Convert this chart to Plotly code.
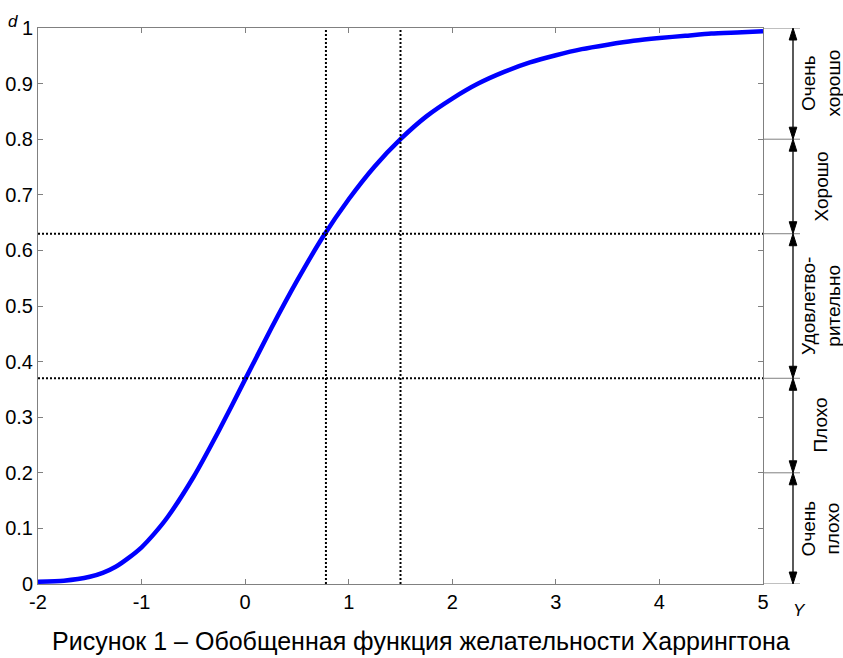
import plotly.graph_objects as go

# Harrington desirability curve
Y_VALUES = [-2.0, -1.75, -1.5, -1.375, -1.25, -1.125, -1.0, -0.875, -0.75, -0.5, -0.25, 0.0,
            0.25, 0.5, 0.75, 1.0, 1.25, 1.5, 1.75, 2.0, 2.25, 2.5, 2.75, 3.0, 3.25, 3.5,
            3.75, 4.0, 4.25, 4.5, 4.75, 5.0]
D_VALUES = [0.004, 0.006, 0.013, 0.02, 0.031, 0.047, 0.066, 0.091, 0.12, 0.192, 0.277, 0.368,
            0.459, 0.545, 0.624, 0.692, 0.751, 0.8, 0.841, 0.873, 0.9, 0.921, 0.938, 0.951, 0.962, 0.97,
            0.977, 0.982, 0.986, 0.99, 0.992, 0.994]

X_TICKS = [-2, -1, 0, 1, 2, 3, 4, 5]
D_TICKS = [0, 0.1, 0.2, 0.3, 0.4, 0.5, 0.6, 0.7, 0.8, 0.9, 1]
D_TICK_TEXT = ["0", "0.1", "0.2", "0.3", "0.4", "0.5", "0.6", "0.7", "0.8", "0.9", "1"]

GUIDE_D = [0.37, 0.63]
GUIDE_Y = [0.78, 1.5]

LEVEL_BOUNDS = [0, 0.2, 0.37, 0.63, 0.8, 1]
LEVEL_NAMES = ["Очень<br>плохо", "Плохо", "Удовлетво-<br>рительно", "Хорошо", "Очень<br>хорошо"]

CAPTION = "Рисунок 1 – Обобщенная функция желательности Харрингтона"

W, H = 843, 658
L, R, T, B = 38, 80, 28, 74
PW = W - L - R
PH = H - T - B
FONT = "Liberation Sans, Arial, sans-serif"


def px_x(px):
    return (px - L) / PW


def px_y(py):
    return (H - B - py) / PH


fig = go.Figure()
fig.add_trace(
    go.Scatter(
        x=Y_VALUES,
        y=D_VALUES,
        mode="lines",
        line=dict(color="#0000ff", width=4.5, shape="spline", smoothing=0.6),
        showlegend=False,
        hoverinfo="skip",
    )
)

shapes = []
dot = dict(color="black", width=2, dash="2px,2px")
for d in GUIDE_D:
    shapes.append(dict(type="line", xref="x", yref="y", x0=X_TICKS[0], x1=X_TICKS[-1], y0=d, y1=d, line=dot))
for y in GUIDE_Y:
    shapes.append(dict(type="line", xref="x", yref="y", x0=y, x1=y, y0=0, y1=1, line=dot))

# level scale on the right
arrow_x = px_x(793)
tick_end = px_x(800)
head_w = 3.8 / PW
head_l = 12 / PH
for b in LEVEL_BOUNDS:
    shapes.append(dict(type="line", xref="paper", yref="y", x0=1, x1=tick_end, y0=b, y1=b,
                       line=dict(color="#808080", width=1)))
for lo, hi in zip(LEVEL_BOUNDS[:-1], LEVEL_BOUNDS[1:]):
    shapes.append(dict(type="line", xref="paper", yref="y", x0=arrow_x, x1=arrow_x,
                       y0=lo + head_l, y1=hi - head_l, line=dict(color="black", width=1.3)))
    up = f"M{arrow_x},{hi} L{arrow_x - head_w},{hi - head_l} L{arrow_x + head_w},{hi - head_l} Z"
    down = f"M{arrow_x},{lo} L{arrow_x - head_w},{lo + head_l} L{arrow_x + head_w},{lo + head_l} Z"
    for p in (up, down):
        shapes.append(dict(type="path", xref="paper", yref="y", path=p,
                           fillcolor="black", line=dict(color="black", width=1)))

annotations = []
for (lo, hi), name in zip(zip(LEVEL_BOUNDS[:-1], LEVEL_BOUNDS[1:]), LEVEL_NAMES):
    annotations.append(dict(
        x=px_x(821), y=(lo + hi) / 2, xref="paper", yref="y", text=name, showarrow=False,
        textangle=-90, font=dict(family=FONT, size=19, color="black"),
        xanchor="center", yanchor="middle",
    ))

annotations.append(dict(x=px_x(6), y=px_y(10), xref="paper", yref="paper", text="<i>d</i>",
                        showarrow=False, font=dict(family=FONT, size=17, color="black")))
annotations.append(dict(x=px_x(808), y=px_y(622), xref="paper", yref="paper", text="<i>Y</i>",
                        showarrow=False, font=dict(family=FONT, size=17, color="black")))
annotations.append(dict(x=px_x(421), y=px_y(641), xref="paper", yref="paper", text=CAPTION,
                        showarrow=False, font=dict(family=FONT, size=25, color="black"),
                        xanchor="center", yanchor="middle"))

axis_common = dict(
    showgrid=False, zeroline=False, showline=True, linecolor="#808080", linewidth=1,
    mirror="ticks", ticks="inside", ticklen=5, tickcolor="#808080", automargin=False,
    tickfont=dict(family=FONT, size=20, color="black"),
)

fig.update_layout(
    width=W, height=H,
    margin=dict(l=L, r=R, t=T, b=B),
    plot_bgcolor="white", paper_bgcolor="white",
    xaxis=dict(range=[-2, 5], tickvals=X_TICKS, ticktext=[str(v) for v in X_TICKS], **axis_common),
    yaxis=dict(range=[0, 1], tickvals=D_TICKS, ticktext=D_TICK_TEXT, **axis_common),
    shapes=shapes,
    annotations=annotations,
)

fig.write_html("out.html", config={"displayModeBar": False},
               post_script="document.body.style.margin='0';")
